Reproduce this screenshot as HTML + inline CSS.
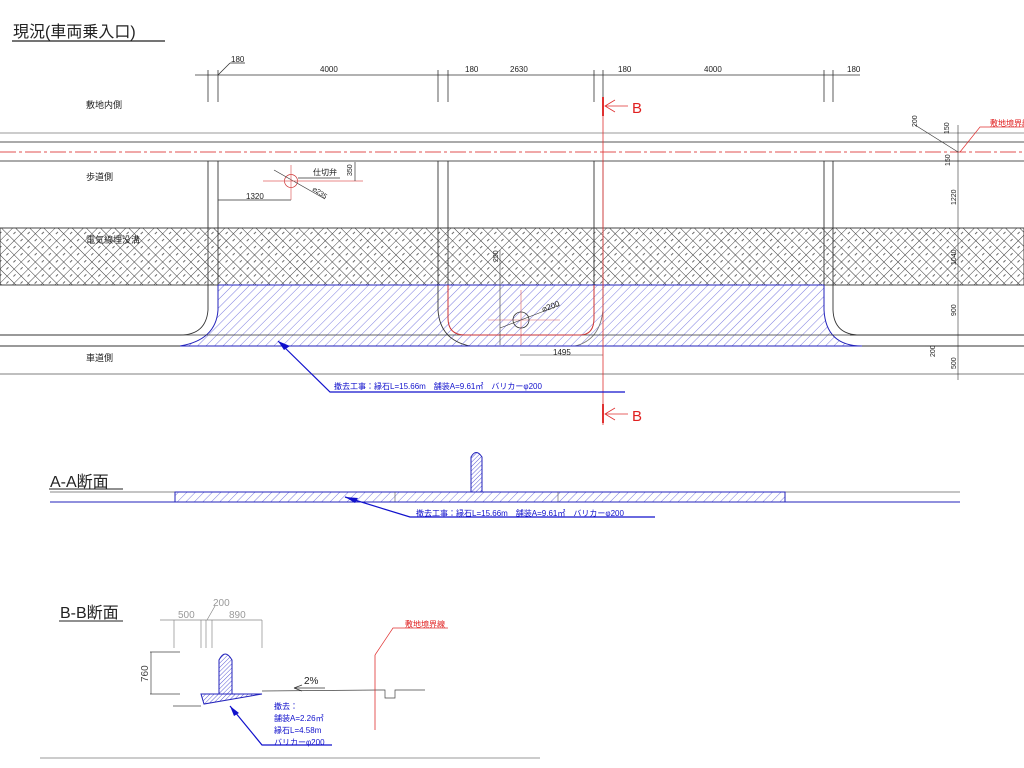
<!DOCTYPE html>
<html><head><meta charset="utf-8"><style>
html,body{margin:0;padding:0;background:#fff;width:1024px;height:768px;overflow:hidden}
svg text{font-family:"Liberation Sans","Noto Sans CJK JP",sans-serif}
</style></head><body>
<svg width="1024" height="768" viewBox="0 0 1024 768" xmlns="http://www.w3.org/2000/svg">
<defs>
<pattern id="cross" width="10" height="10" patternUnits="userSpaceOnUse" patternTransform="rotate(45)">
<path d="M0 0H10M0 0V10" stroke="#333" stroke-width="0.9" fill="none"/>
<path d="M5 3V6" stroke="#444" stroke-width="0.8"/>
</pattern>
<pattern id="bh" width="6" height="6" patternUnits="userSpaceOnUse" patternTransform="rotate(45)">
<path d="M0 0V6" stroke="#5a5ad8" stroke-width="0.8"/>
</pattern>
<pattern id="bh2" width="3" height="3" patternUnits="userSpaceOnUse" patternTransform="rotate(45)">
<path d="M0 0V3" stroke="#3333cc" stroke-width="0.8"/>
</pattern>
</defs>

<text x="13" y="37" font-size="16" fill="#222">現況(車両乗入口)</text>
<line x1="12" y1="41" x2="165" y2="41" stroke="#222" stroke-width="1.2"/>

<g stroke="#333" stroke-width="0.8" fill="none">
<line x1="195" y1="75" x2="860" y2="75"/>
<line x1="208" y1="70" x2="208" y2="102"/><line x1="218" y1="70" x2="218" y2="102"/>
<line x1="438" y1="70" x2="438" y2="102"/><line x1="448" y1="70" x2="448" y2="102"/>
<line x1="594" y1="70" x2="594" y2="102"/><line x1="603" y1="70" x2="603" y2="102"/>
<line x1="824" y1="70" x2="824" y2="102"/><line x1="833" y1="70" x2="833" y2="102"/>
<line x1="218" y1="75" x2="230" y2="63"/><line x1="230" y1="63" x2="245" y2="63"/>
</g>
<g font-size="8" fill="#222">
<text x="231" y="62">180</text><text x="320" y="72">4000</text><text x="465" y="72">180</text>
<text x="510" y="72">2630</text><text x="618" y="72">180</text><text x="704" y="72">4000</text>
<text x="847" y="72">180</text>
</g>

<g font-size="9" fill="#222">
<text x="86" y="108">敷地内側</text>
<text x="86" y="180">歩道側</text>
<text x="86" y="243">電気線埋没溝</text>
<text x="86" y="361">車道側</text>
</g>

<g stroke="#555" stroke-width="0.9">
<line x1="0" y1="133" x2="1024" y2="133" stroke="#999"/>
<line x1="0" y1="142" x2="1024" y2="142"/>
<line x1="0" y1="161" x2="1024" y2="161"/>
<line x1="0" y1="374" x2="1024" y2="374" stroke="#999" stroke-width="1.2"/>
</g>
<line x1="0" y1="152" x2="1024" y2="152" stroke="#e05050" stroke-width="1" stroke-dasharray="16,3,3,3"/>

<rect x="0" y="228" width="1024" height="57" fill="url(#cross)" stroke="#333" stroke-width="0.9"/>

<path d="M218 285 H824 V310 Q826 346 862 346 H180 Q216 340 218 310 Z" fill="#fff"/>
<path d="M218 285 H824 V310 Q826 346 862 346 H180 Q216 340 218 310 Z" fill="url(#bh)" stroke="#2222bb" stroke-width="1"/>

<g stroke="#333" stroke-width="0.9" fill="none">
<line x1="0" y1="335" x2="180" y2="335"/>
<line x1="0" y1="346" x2="180" y2="346"/>
<line x1="862" y1="346" x2="1024" y2="346"/>
<line x1="850" y1="335" x2="1024" y2="335"/>
<path d="M208 161 V310 Q206 335 180 335"/>
<line x1="218" y1="161" x2="218" y2="285"/>
<path d="M438 161 V310 Q440 340 470 346"/>
<line x1="448" y1="161" x2="448" y2="285"/>
<path d="M603 161 V310 Q600 340 575 346" stroke="#777"/>
<line x1="594" y1="161" x2="594" y2="285"/>
<line x1="824" y1="161" x2="824" y2="285"/>
<path d="M833 161 V310 Q834 335 860 335"/>
<line x1="180" y1="335" x2="860" y2="335" stroke="#333" stroke-width="0.7"/>
</g>
<line x1="218" y1="285" x2="824" y2="285" stroke="#2222bb" stroke-width="1"/>
<line x1="180" y1="346" x2="862" y2="346" stroke="#2222bb" stroke-width="1"/>

<path d="M448 285 V318 Q448 335 465 335 H580 Q594 335 594 318 V285" fill="none" stroke="#cc3333" stroke-width="1"/>
<g stroke="#e06060" stroke-width="0.6"><line x1="488" y1="320" x2="560" y2="320"/><line x1="521" y1="290" x2="521" y2="345"/></g>
<circle cx="521" cy="320" r="8" fill="none" stroke="#333" stroke-width="0.8"/>
<line x1="500" y1="328" x2="560" y2="305" stroke="#333" stroke-width="0.6"/>
<text x="543" y="312" font-size="8" fill="#222" transform="rotate(-20 543 312)">⌀200</text>
<line x1="500" y1="250" x2="500" y2="345" stroke="#333" stroke-width="0.6"/>
<text x="498" y="262" font-size="7" fill="#222" transform="rotate(-90 498 262)">250</text>
<line x1="520" y1="355" x2="603" y2="355" stroke="#333" stroke-width="0.6"/>
<text x="553" y="355" font-size="8" fill="#222">1495</text>

<g stroke="#333" stroke-width="0.7" fill="none">
<circle cx="291" cy="181" r="6.5" stroke="#cc3333"/>
<line x1="274" y1="170" x2="325" y2="199"/>
<line x1="298" y1="178" x2="340" y2="178"/>
<line x1="218" y1="200" x2="291" y2="200"/>
<line x1="291" y1="165" x2="291" y2="200" stroke="#e06060"/>
<line x1="263" y1="181" x2="363" y2="181" stroke="#e06060"/>
<line x1="355" y1="162" x2="355" y2="181"/>
</g>
<text x="313" y="175" font-size="8" fill="#222">仕切弁</text>
<text x="246" y="199" font-size="8" fill="#222">1320</text>
<text x="312" y="190" font-size="7" fill="#222" transform="rotate(35 312 190)">⌀235</text>
<text x="352" y="176" font-size="7" fill="#222" transform="rotate(-90 352 176)">350</text>

<line x1="603" y1="98" x2="603" y2="425" stroke="#e03030" stroke-width="0.8"/>
<line x1="603" y1="97" x2="603" y2="116" stroke="#e03030" stroke-width="2"/>
<line x1="603" y1="404" x2="603" y2="423" stroke="#e03030" stroke-width="2"/>
<g stroke="#e03030" stroke-width="0.8" fill="none"><path d="M615 100 L605 106 L615 112 M605 106 H628"/><path d="M615 408 L605 414 L615 420 M605 414 H628"/></g>
<text x="632" y="113" font-size="15" fill="#e02020">B</text>
<text x="632" y="421" font-size="15" fill="#e02020">B</text>

<g stroke="#333" stroke-width="0.6" fill="none">
<line x1="958" y1="125" x2="958" y2="380"/>
<line x1="915" y1="125" x2="958" y2="152"/>
<line x1="925" y1="346" x2="958" y2="346"/>
</g>
<g font-size="7" fill="#222">
<text x="917" y="127" transform="rotate(-90 917 127)">200</text>
<text x="949" y="134" transform="rotate(-90 949 134)">150</text>
<text x="950" y="166" transform="rotate(-90 950 166)">150</text>
<text x="956" y="205" transform="rotate(-90 956 205)">1220</text>
<text x="956" y="265" transform="rotate(-90 956 265)">1040</text>
<text x="956" y="316" transform="rotate(-90 956 316)">900</text>
<text x="935" y="357" transform="rotate(-90 935 357)">200</text>
<text x="956" y="369" transform="rotate(-90 956 369)">500</text>
</g>
<path d="M960 152 L980 127 H1024" stroke="#e03030" stroke-width="0.7" fill="none"/>
<text x="990" y="126" font-size="8" fill="#e02020">敷地境界線</text>

<path d="M278 341 L330 392 H625" stroke="#1111cc" stroke-width="1.2" fill="none"/>
<path d="M278 341 L290 346 L284 350 Z" fill="#1111cc"/>
<text x="334" y="389" font-size="8" fill="#1111cc">撤去工事：縁石L=15.66m　舗装A=9.61㎡　バリカーφ200</text>

<text x="50" y="487" font-size="16" fill="#222">A-A断面</text>
<line x1="49" y1="489" x2="123" y2="489" stroke="#222"/>
<line x1="50" y1="492" x2="175" y2="492" stroke="#888"/>
<line x1="785" y1="492" x2="960" y2="492" stroke="#888"/>
<rect x="175" y="492" width="610" height="10" fill="url(#bh)" stroke="#2222bb" stroke-width="1"/>
<line x1="395" y1="492" x2="395" y2="502" stroke="#555" stroke-width="0.6"/>
<line x1="558" y1="492" x2="558" y2="502" stroke="#555" stroke-width="0.6"/>
<line x1="50" y1="502" x2="960" y2="502" stroke="#2222bb" stroke-width="1"/>
<path d="M471 492 V457 Q476 448 482 457 V492 Z" fill="url(#bh2)" stroke="#2222bb"/>
<path d="M345 497 L410 517 H655" stroke="#1111cc" stroke-width="1.2" fill="none"/>
<path d="M345 497 L358 498 L355 503 Z" fill="#1111cc"/>
<text x="416" y="516" font-size="8" fill="#1111cc">撤去工事：縁石L=15.66m　舗装A=9.61㎡　バリカーφ200</text>

<text x="60" y="618" font-size="16" fill="#222">B-B断面</text>
<line x1="59" y1="621" x2="123" y2="621" stroke="#222"/>
<g stroke="#888" stroke-width="0.7" fill="none">
<line x1="160" y1="620" x2="262" y2="620"/>
<line x1="174" y1="620" x2="174" y2="648"/><line x1="201" y1="620" x2="201" y2="648"/>
<line x1="206" y1="620" x2="206" y2="648"/><line x1="212" y1="620" x2="212" y2="648"/>
<line x1="262" y1="620" x2="262" y2="648"/>
<line x1="207" y1="620" x2="215" y2="606"/>
</g>
<g font-size="10" fill="#999"><text x="178" y="618">500</text><text x="213" y="606">200</text><text x="229" y="618">890</text></g>
<g stroke="#444" stroke-width="0.7" fill="none">
<line x1="150" y1="652" x2="180" y2="652"/><line x1="150" y1="694" x2="180" y2="694"/>
<line x1="151" y1="652" x2="151" y2="694"/>
<line x1="173" y1="706" x2="201" y2="706"/>
<path d="M262 691 L378 690 H385 V698 H395 V690 H425"/>
</g>
<text x="148" y="682" font-size="10" fill="#444" transform="rotate(-90 148 682)">760</text>
<path d="M201 694 H262 L204 704 Z" fill="url(#bh2)" stroke="#2222bb"/>
<path d="M219 694 V660 Q225 648 232 660 V694 Z" fill="url(#bh2)" stroke="#2222bb"/>
<line x1="294" y1="688" x2="325" y2="688" stroke="#333" stroke-width="0.7"/>
<path d="M294 688 L302 685 M294 688 L302 691" stroke="#333" stroke-width="0.7"/>
<text x="304" y="684" font-size="10" fill="#222">2%</text>
<line x1="375" y1="655" x2="375" y2="730" stroke="#e03030" stroke-width="0.8"/>
<path d="M375 655 L393 628 H448" stroke="#e03030" stroke-width="0.7" fill="none"/>
<text x="405" y="627" font-size="8" fill="#e02020">敷地境界線</text>
<path d="M230 706 L262 745 H332" stroke="#1111cc" stroke-width="1.2" fill="none"/>
<path d="M230 706 L239 713 L234 716 Z" fill="#1111cc"/>
<g font-size="8" fill="#1111cc">
<text x="274" y="709">撤去：</text><text x="274" y="721">舗装A=2.26㎡</text>
<text x="274" y="733">縁石L=4.58m</text><text x="274" y="745">バリカーφ200</text>
</g>
<line x1="40" y1="758" x2="540" y2="758" stroke="#999" stroke-width="1"/>
</svg>
</body></html>
